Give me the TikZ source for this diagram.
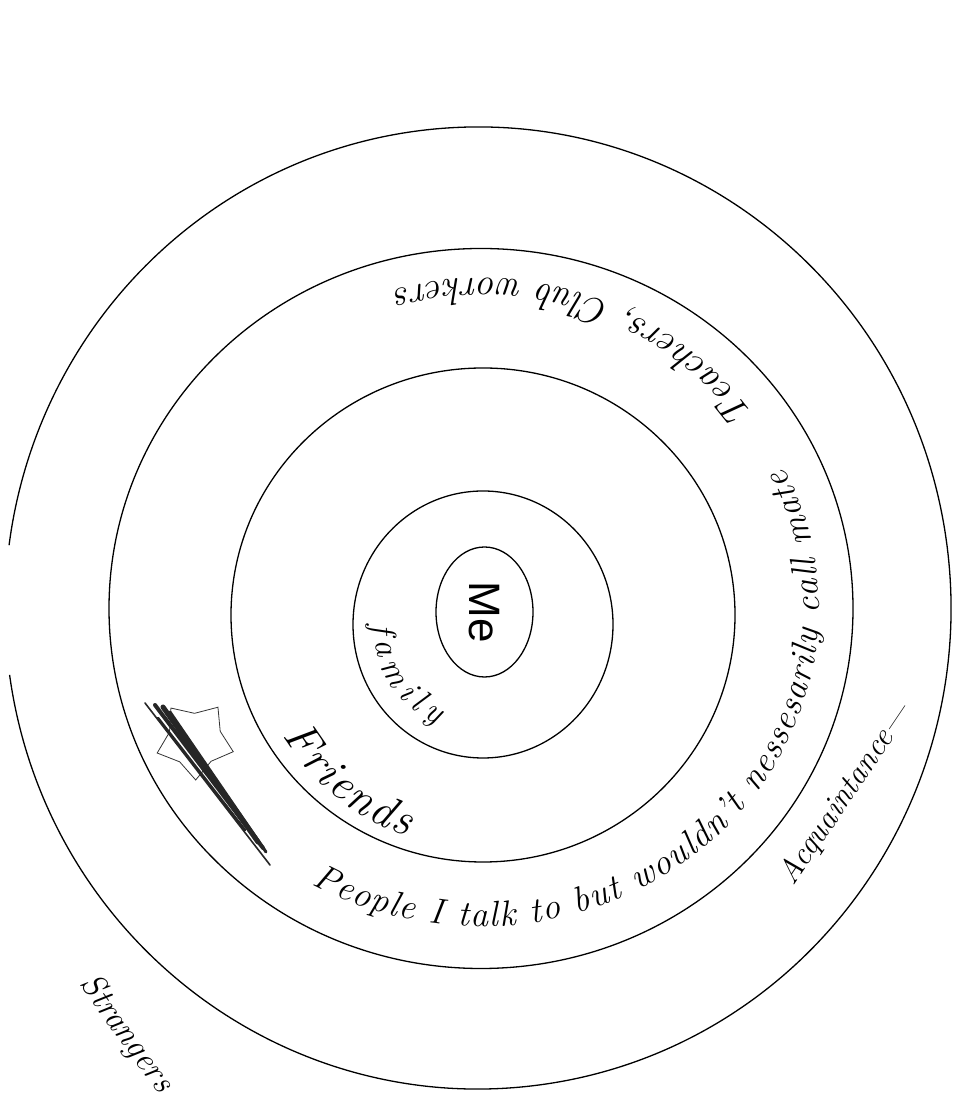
\documentclass[tikz,border=0pt]{standalone}
\usepackage{fontspec}
\newfontfamily\mefont{Liberation Sans}
\usetikzlibrary{decorations.text,shapes.geometric}
\newcommand\txFamily{\fontsize{34}{38}\selectfont\itshape}
\newcommand\txFriends{\fontsize{46}{50}\selectfont\itshape}
\newcommand\txPeople{\fontsize{36}{40}\selectfont\itshape}
\newcommand\txTeach{\fontsize{38}{42}\selectfont\itshape}
\begin{document}
\begin{tikzpicture}[x=1pt, y=1pt,
  ring/.style={line width=1.3pt, black},
  curvetext/.style={decorate, decoration={text along path, text align=fit to path, text={#1}}},
  hand/.style={font=\fontsize{#1}{#1}\selectfont\itshape},
  scrib/.style={line cap=round, black!85}]
\fill[white] (0,0) rectangle (954,1102);
\useasboundingbox (0,0) rectangle (954,1102);

% rings
\draw[ring] ([shift={(188:473 and 481)}]478,494) arc[start angle=188, end angle=532.5, x radius=473, y radius=481];
\draw[ring] (481,493.5) ellipse [x radius=372, y radius=360];
\draw[ring] (483,487) ellipse [x radius=252, y radius=247];
\draw[ring] (483,477.5) ellipse [x radius=130, y radius=133.5];

% centre
\node[draw, ring, ellipse, inner sep=0pt, minimum width=130pt, minimum height=97pt, rotate=-90,
      font=\mefont\fontsize{44}{48}\selectfont] (me) at (484.5,490) {Me};

% curved labels
\path[curvetext={|\txFamily|family}] ([shift={(180:110)}]483,477.5) arc[start angle=180, end angle=245, radius=110];
\path[curvetext={|\txFriends|Friends}] ([shift={(211:234)}]483,487) arc[start angle=211, end angle=251, radius=234];
\path[curvetext={|\txPeople|People I talk to but wouldn't nessesarily call mate}]
   ([shift={(240:338 and 318)}]481,493.5) arc[start angle=240, end angle=386, x radius=338, y radius=318];
\path[curvetext={|\txTeach|Teachers, Club workers}]
   ([shift={(36:336 and 330)}]481,493.5) arc[start angle=36, end angle=105, x radius=336, y radius=330];

% straight labels
\node[rotate=56, hand=32, inner sep=0pt] (acq) at (846,308) {Acquaintance—};
\node[rotate=-54, hand=34, inner sep=0pt] (str) at (126,68) {Strangers};

% crossed-out star
\node[star, star points=5, draw, line width=0.8pt, black!80, minimum size=80pt, rotate=-35] (star) at (195,362) {};
\draw[scrib, line width=1.6pt] (145,399) -- (270,237);
\draw[scrib, line width=4pt] (155,397) -- (263,254);
\draw[scrib, line width=5pt] (163,395) -- (258,260);
\draw[scrib, line width=3pt] (170,390) -- (266,250);
\draw[scrib, line width=2.5pt] (158,384) -- (245,272);
\end{tikzpicture}
\end{document}
